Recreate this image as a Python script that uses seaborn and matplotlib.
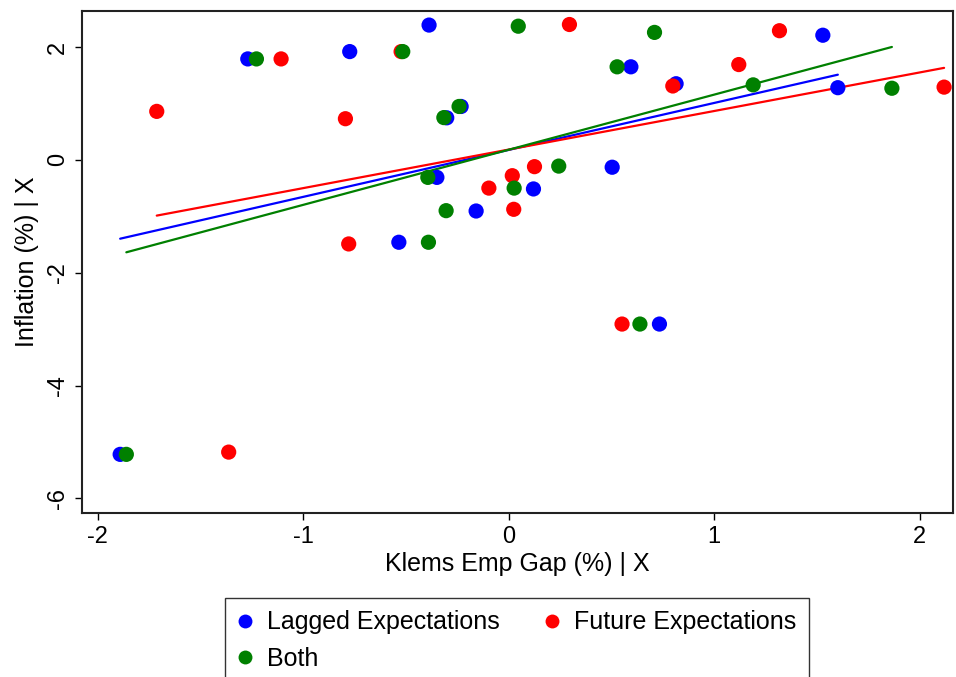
import numpy as np
import pandas as pd
import matplotlib
matplotlib.use("Agg")
import matplotlib.pyplot as plt
import seaborn as sns
from matplotlib.lines import Line2D

sns.set_theme(style="white")
plt.rcParams['font.family'] = ['Liberation Sans', 'DejaVu Sans']
plt.rcParams['text.color'] = 'black'
plt.rcParams['axes.labelcolor'] = 'black'
plt.rcParams['xtick.color'] = 'black'
plt.rcParams['ytick.color'] = 'black'

series_names = ["Lagged Expectations", "Future Expectations", "Both"]
series_colors = ["#0000ff", "#ff0000", "#008000"]

lagged_x = [-0.387, -1.269, -0.773, -0.231, -0.301, -0.349, -0.158, -0.534,
            1.529, 0.595, 0.815, 1.602, 0.504, 0.121, 0.734, -1.89]
lagged_y = [2.39, 1.79, 1.92, 0.947, 0.746, -0.31, -0.906, -1.46,
            2.21, 1.65, 1.35, 1.28, -0.13, -0.515, -2.91, -5.22]

future_x = [-1.107, -0.523, -1.712, -0.794, 0.018, -0.096, 0.025, -0.778,
            0.296, 1.318, 1.12, 0.799, 2.119, 0.126, 0.552, -1.362]
future_y = [1.79, 1.92, 0.86, 0.73, -0.28, -0.50, -0.876, -1.49,
            2.40, 2.29, 1.69, 1.31, 1.29, -0.12, -2.91, -5.18]

both_x = [0.047, -1.227, -0.515, -0.241, -0.315, -0.393, -0.304, -0.39,
          0.027, 0.71, 0.528, 1.19, 1.865, 0.244, 0.639, -1.86]
both_y = [2.37, 1.79, 1.92, 0.947, 0.75, -0.31, -0.90, -1.46,
          -0.50, 2.26, 1.65, 1.33, 1.27, -0.11, -2.91, -5.22]

x_ticks = [-2, -1, 0, 1, 2]
y_ticks = [-6, -4, -2, 0, 2]

frames = []
for name, xs, ys in zip(series_names, [lagged_x, future_x, both_x], [lagged_y, future_y, both_y]):
    frames.append(pd.DataFrame({"x": xs, "y": ys, "series": name}))
df = pd.concat(frames, ignore_index=True)

fig = plt.figure(figsize=(9.56, 6.77), dpi=100)
ax = fig.add_axes([0.0855, 0.2422, 0.9115, 0.7416])

# fitted lines
for name, col in zip(series_names, series_colors):
    sub = df[df.series == name]
    sns.regplot(data=sub, x="x", y="y", ax=ax, scatter=False, ci=None,
                color=col, line_kws={"linewidth": 1.6, "zorder": 2})

# scatter points (blue, red, green order)
for name, col in zip(series_names, series_colors):
    sub = df[df.series == name]
    sns.scatterplot(data=sub, x="x", y="y", ax=ax, color=col, s=120,
                    edgecolor="none", linewidth=0, zorder=3, legend=False)

ax.set_xlim(-2.077, 2.163)
ax.set_ylim(-6.26, 2.64)
ax.set_xticks(x_ticks)
ax.set_yticks(y_ticks)
ax.set_xticklabels([str(t) for t in x_ticks], fontsize=17)
ax.set_yticklabels([str(t) for t in y_ticks], fontsize=17, rotation=90, va="center")
ax.tick_params(axis="both", direction="out", length=5, width=1, color="black",
               bottom=True, left=True, pad=4)
ax.set_xlabel("Klems Emp Gap (%) | X", fontsize=18, labelpad=3)
ax.set_ylabel("Inflation (%) | X", fontsize=18, labelpad=6)
for sp in ax.spines.values():
    sp.set_color("#222222")
    sp.set_linewidth(1.5)
ax.grid(False)

# legend in row order: Lagged, Future / Both
order = [0, 2, 1]
handles = [Line2D([0], [0], marker="o", linestyle="none", markersize=10,
                  markerfacecolor=series_colors[i], markeredgecolor="none") for i in order]
labels = [series_names[i] for i in order]
leg = fig.legend(handles, labels, loc="upper left", ncol=2,
                 bbox_to_anchor=(225 / 956, 1 - 598 / 677), borderaxespad=0,
                 fontsize=18, frameon=True, fancybox=False, edgecolor="black",
                 handletextpad=0.58, columnspacing=1.8, handlelength=0.6,
                 borderpad=0.5, labelspacing=0.5)
leg.get_frame().set_linewidth(1.0)

fig.savefig("out.png", dpi=100)
